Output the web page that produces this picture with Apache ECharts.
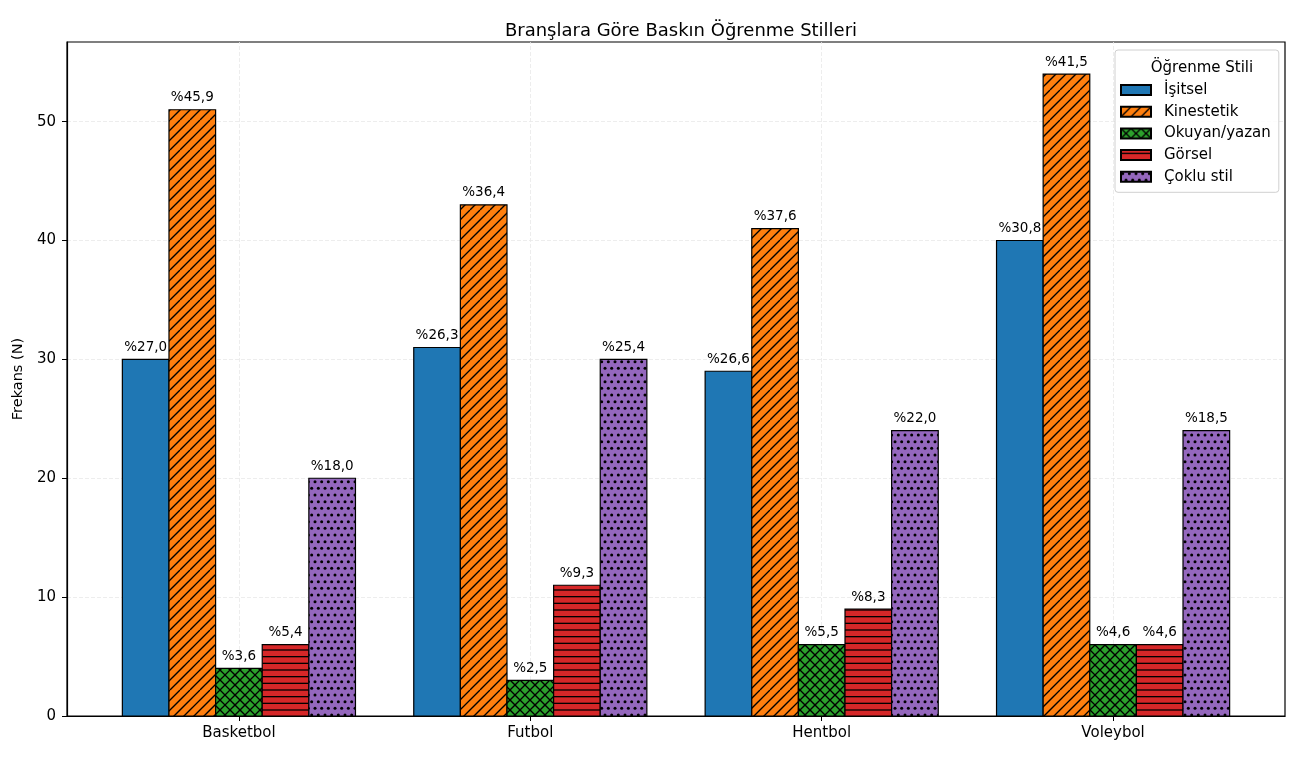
<!DOCTYPE html>
<html>
<head>
<meta charset="utf-8">
<script src="https://cdn.jsdelivr.net/npm/echarts@6/dist/echarts.min.js"></script>
<style>
  html, body { margin: 0; padding: 0; background: #fff; }
  #chart { width: 1301px; height: 759px; }
</style>
</head>
<body>
<div id="chart"></div>
<script>
// Branches (x categories)
const categories = ['Basketbol', 'Futbol', 'Hentbol', 'Voleybol'];

// Frequencies per learning style
const isitsel = [30, 31, 29, 40];
const kinestetik = [51, 43, 41, 54];
const okuyanYazan = [4, 3, 6, 6];
const gorsel = [6, 11, 9, 6];
const cokluStil = [20, 30, 24, 24];

// Percent labels shown above the bars
const isitselPct = ['%27,0', '%26,3', '%26,6', '%30,8'];
const kinestetikPct = ['%45,9', '%36,4', '%37,6', '%41,5'];
const okuyanYazanPct = ['%3,6', '%2,5', '%5,5', '%4,6'];
const gorselPct = ['%5,4', '%9,3', '%8,3', '%4,6'];
const cokluStilPct = ['%18,0', '%25,4', '%22,0', '%18,5'];

const yTicks = [0, 10, 20, 30, 40, 50];

const FONT = '"DejaVu Sans", sans-serif';
const BAR_W = 0.16;

// Matplotlib-like hatch tiles
function hatch(bg, kind) {
  let W, H, step;
  if (kind === '/' || kind === 'x') { step = 10; W = H = 30; }
  else if (kind === '-') { step = 20 / 3; W = H = 20; }
  else { step = 20 / 3; W = 20; H = 40; }
  const c = document.createElement('canvas');
  c.width = W; c.height = H;
  const g = c.getContext('2d');
  g.fillStyle = bg;
  g.fillRect(0, 0, W, H);
  g.strokeStyle = '#000';
  g.fillStyle = '#000';
  g.lineWidth = 1.3;
  if (kind === '/' || kind === 'x') {
    for (let k = -3; k <= 3; k++) {
      const x0 = k * step;
      g.beginPath(); g.moveTo(x0, H); g.lineTo(x0 + W, 0); g.stroke();
      if (kind === 'x') {
        g.beginPath(); g.moveTo(x0, 0); g.lineTo(x0 + W, H); g.stroke();
      }
    }
  } else if (kind === '-') {
    for (let k = 0; k < 3; k++) {
      const y = k * step + step / 2;
      g.beginPath(); g.moveTo(0, y); g.lineTo(W, y); g.stroke();
    }
  } else if (kind === '.') {
    for (let r = 0; r <= 6; r++) {
      const off = (r % 2) ? step / 2 : 0;
      for (let i = -1; i <= 3; i++) {
        g.beginPath(); g.arc(i * step + off + step / 4, r * step + step / 4, 1.5, 0, Math.PI * 2); g.fill();
      }
    }
  }
  return { image: c, repeat: 'repeat' };
}

const styles = [
  { name: 'İşitsel', values: isitsel, pct: isitselPct, fill: '#1f77b4' },
  { name: 'Kinestetik', values: kinestetik, pct: kinestetikPct, fill: hatch('#ff7f0e', '/') },
  { name: 'Okuyan/yazan', values: okuyanYazan, pct: okuyanYazanPct, fill: hatch('#2ca02c', 'x') },
  { name: 'Görsel', values: gorsel, pct: gorselPct, fill: hatch('#d62728', '-') },
  { name: 'Çoklu stil', values: cokluStil, pct: cokluStilPct, fill: hatch('#9467bd', '.') }
];

const series = styles.map((s, si) => ({
  name: s.name,
  type: 'custom',
  itemStyle: { color: s.fill, borderColor: '#000', borderWidth: 1.2 },
  encode: { x: 0, y: 1 },
  data: s.values.map((v, ci) => [ci + (si - 2) * BAR_W, v]),
  z: 3,
  renderItem: (params, api) => {
    const x = api.value(0), y = api.value(1);
    const p0 = api.coord([x - BAR_W / 2, y]);
    const p1 = api.coord([x + BAR_W / 2, 0]);
    return {
      type: 'group',
      children: [
        {
          type: 'rect',
          shape: { x: p0[0], y: p0[1], width: p1[0] - p0[0], height: p1[1] - p0[1] },
          style: { fill: s.fill, stroke: '#000', lineWidth: 1.2 }
        },
        {
          type: 'text',
          style: {
            text: s.pct[params.dataIndex],
            x: (p0[0] + p1[0]) / 2, y: p0[1] - 5,
            align: 'center', verticalAlign: 'bottom',
            fontSize: 13.5, fontFamily: FONT, fill: '#000'
          }
        }
      ]
    };
  }
}));

// faint vertical grid lines at the branch ticks
series[0].markLine = {
  silent: true,
  symbol: 'none',
  label: { show: false },
  lineStyle: { color: '#e8e8e8', type: [4, 2], width: 0.8 },
  data: categories.map((c, i) => ({ xAxis: i })),
  z: 1
};

const chart = echarts.init(document.getElementById('chart'), null, { renderer: 'canvas' });

chart.setOption({
  backgroundColor: '#fff',
  animation: false,
  textStyle: { fontFamily: FONT },
  title: [
    {
      text: 'Branşlara Göre Baskın Öğrenme Stilleri',
      left: 676, top: 17, textAlign: 'center',
      textStyle: { fontFamily: FONT, fontSize: 18, fontWeight: 'normal', color: '#000' }
    },
    {
      text: 'Öğrenme Stili',
      left: 1197, top: 56, textAlign: 'center',
      textStyle: { fontFamily: FONT, fontSize: 15, fontWeight: 'normal', color: '#000' }
    }
  ],
  legend: {
    orient: 'vertical',
    left: 1115, top: 50,
    padding: [32.5, 8, 8, 5],
    width: 162,
    backgroundColor: 'rgba(255,255,255,0.8)',
    borderColor: '#d0d0d0', borderWidth: 1, borderRadius: 3,
    icon: 'rect',
    itemWidth: 30, itemHeight: 10, itemGap: 6.7,
    textStyle: { fontFamily: FONT, fontSize: 15, lineHeight: 15, color: '#000', padding: [0, 0, 0, 8] },
    data: styles.map(s => s.name)
  },
  grid: { left: 67, right: 16, top: 42, bottom: 43, show: true, borderColor: '#000', borderWidth: 1.2 },
  xAxis: {
    type: 'value',
    min: -0.59, max: 3.59,
    axisLine: { show: true, onZero: false, lineStyle: { color: '#000', width: 1.2 } },
    axisTick: { show: true, customValues: [0, 1, 2, 3], length: 5, lineStyle: { color: '#000' } },
    axisLabel: {
      customValues: [0, 1, 2, 3], formatter: v => categories[Math.round(v)] || '',
      color: '#000', fontSize: 15, fontFamily: FONT, margin: 10
    },
    splitLine: { show: false }
  },
  yAxis: {
    type: 'value',
    min: 0, max: 56.7, interval: 10,
    name: 'Frekans (N)', nameLocation: 'middle', nameGap: 38,
    nameTextStyle: { fontFamily: FONT, fontSize: 14.5, color: '#000' },
    axisLine: { show: true, onZero: false, lineStyle: { color: '#000', width: 1.2 } },
    axisTick: { show: true, customValues: yTicks, length: 5, lineStyle: { color: '#000' } },
    axisLabel: { customValues: yTicks, color: '#000', fontSize: 15, fontFamily: FONT, margin: 11 },
    splitLine: { show: true, lineStyle: { color: '#e8e8e8', type: [4, 2], width: 0.8 } }
  },
  series: series
});
</script>
</body>
</html>
